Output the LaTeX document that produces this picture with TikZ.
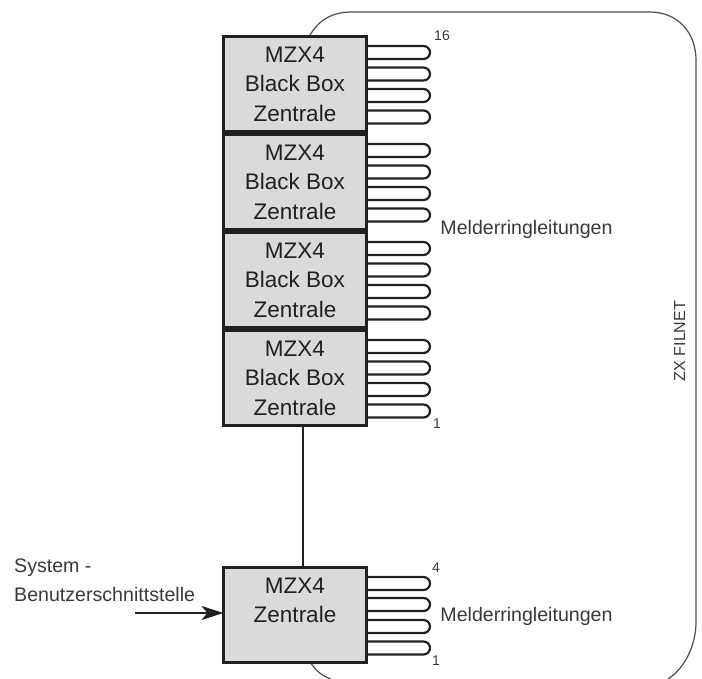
\documentclass[tikz,border=0pt]{standalone}
\usepackage{fontspec}
\setmainfont{Liberation Sans}
\usetikzlibrary{calc,arrows.meta}
\definecolor{ink}{HTML}{231F20}
\definecolor{txt}{HTML}{3A3839}
\definecolor{boxfill}{HTML}{D9DADB}
\tikzset{
  zbox/.style={draw=ink,line width=2.6pt,fill=boxfill,minimum width=143pt,minimum height=95pt,inner sep=0pt,outer sep=0pt,
    align=center,text=ink,font=\fontsize{22.5}{29.5}\selectfont},
  lbl/.style={text=txt,inner sep=0pt,font=\fontsize{19.6}{28}\selectfont},
  num/.style={text=txt,inner sep=0pt,font=\fontsize{14}{16}\selectfont},
  side/.style={text=txt,inner sep=0pt,font=\fontsize{16}{18}\selectfont},
  frame/.style={draw=ink!80,line width=1.2pt},
  loopline/.style={draw=ink,line width=2.2pt},
  link/.style={draw=ink,line width=1.1pt},
  feed/.style={draw=ink,line width=2.3pt,-{Stealth[length=22pt,width=14pt,inset=6pt]}}
}
\newcommand{\loopat}[2]{%
  \draw[loopline] ($(#1.north east)+(0,#2)$) -- ++(57pt,0)
     arc[start angle=90,end angle=-90,radius=6.5pt] -- ++(-57pt,0);}
\begin{document}
\begin{tikzpicture}[x=1pt,y=-1pt]
\useasboundingbox (0,0) rectangle (702,679);
\draw[frame] (309,37) .. controls (318,20) and (332,12) .. (352,12) -- (650,12)
   .. controls (677,12) and (696,32) .. (696,60) -- (696,622)
   .. controls (696,645) and (685,668) .. (668,679);
\draw[frame] (311,663) .. controls (315,670) and (322,676) .. (331,679);
\node[zbox] (b1) at (295,84) {MZX4\\Black Box\\Zentrale};
\node[zbox] (b2) at (295,182) {MZX4\\Black Box\\Zentrale};
\node[zbox] (b3) at (295,280) {MZX4\\Black Box\\Zentrale};
\node[zbox] (b4) at (295,378) {MZX4\\Black Box\\Zentrale};
\node[zbox] (b5) at (295,615) {MZX4\\Zentrale\\\mbox{}};
\foreach \b in {b1,b2,b3,b4}{
  \foreach \d in {9.5,31,52.5,74}{\loopat{\b}{\d}}
}
\foreach \d in {9.5,30.5,52.5,74}{\loopat{b5}{\d}}
\coordinate (c4) at ($(b4.south)+(8,0)$);
\coordinate (c5) at ($(b5.north)+(8,0)$);
\draw[link] (c4) -- (c5);
\coordinate (feedstart) at (135,613);
\draw[feed] (feedstart) -- (feedstart -| b5.west);
\node[num] (n16) at (442,36) {16};
\node[num] (n1a) at (437,424) {1};
\node[num] (n4) at (436,568) {4};
\node[num] (n1b) at (436,661) {1};
\node[lbl] (m1) at (526.5,229) {Melderringleitungen};
\node[lbl] (m2) at (526.5,616) {Melderringleitungen};
\node[lbl,anchor=base west] (s1) at (14,572) {System -};
\node[lbl,anchor=base west] (s2) at (14,601) {Benutzerschnittstelle};
\node[side,rotate=90] (zx) at (679.5,341) {ZX FILNET};
\end{tikzpicture}
\end{document}
